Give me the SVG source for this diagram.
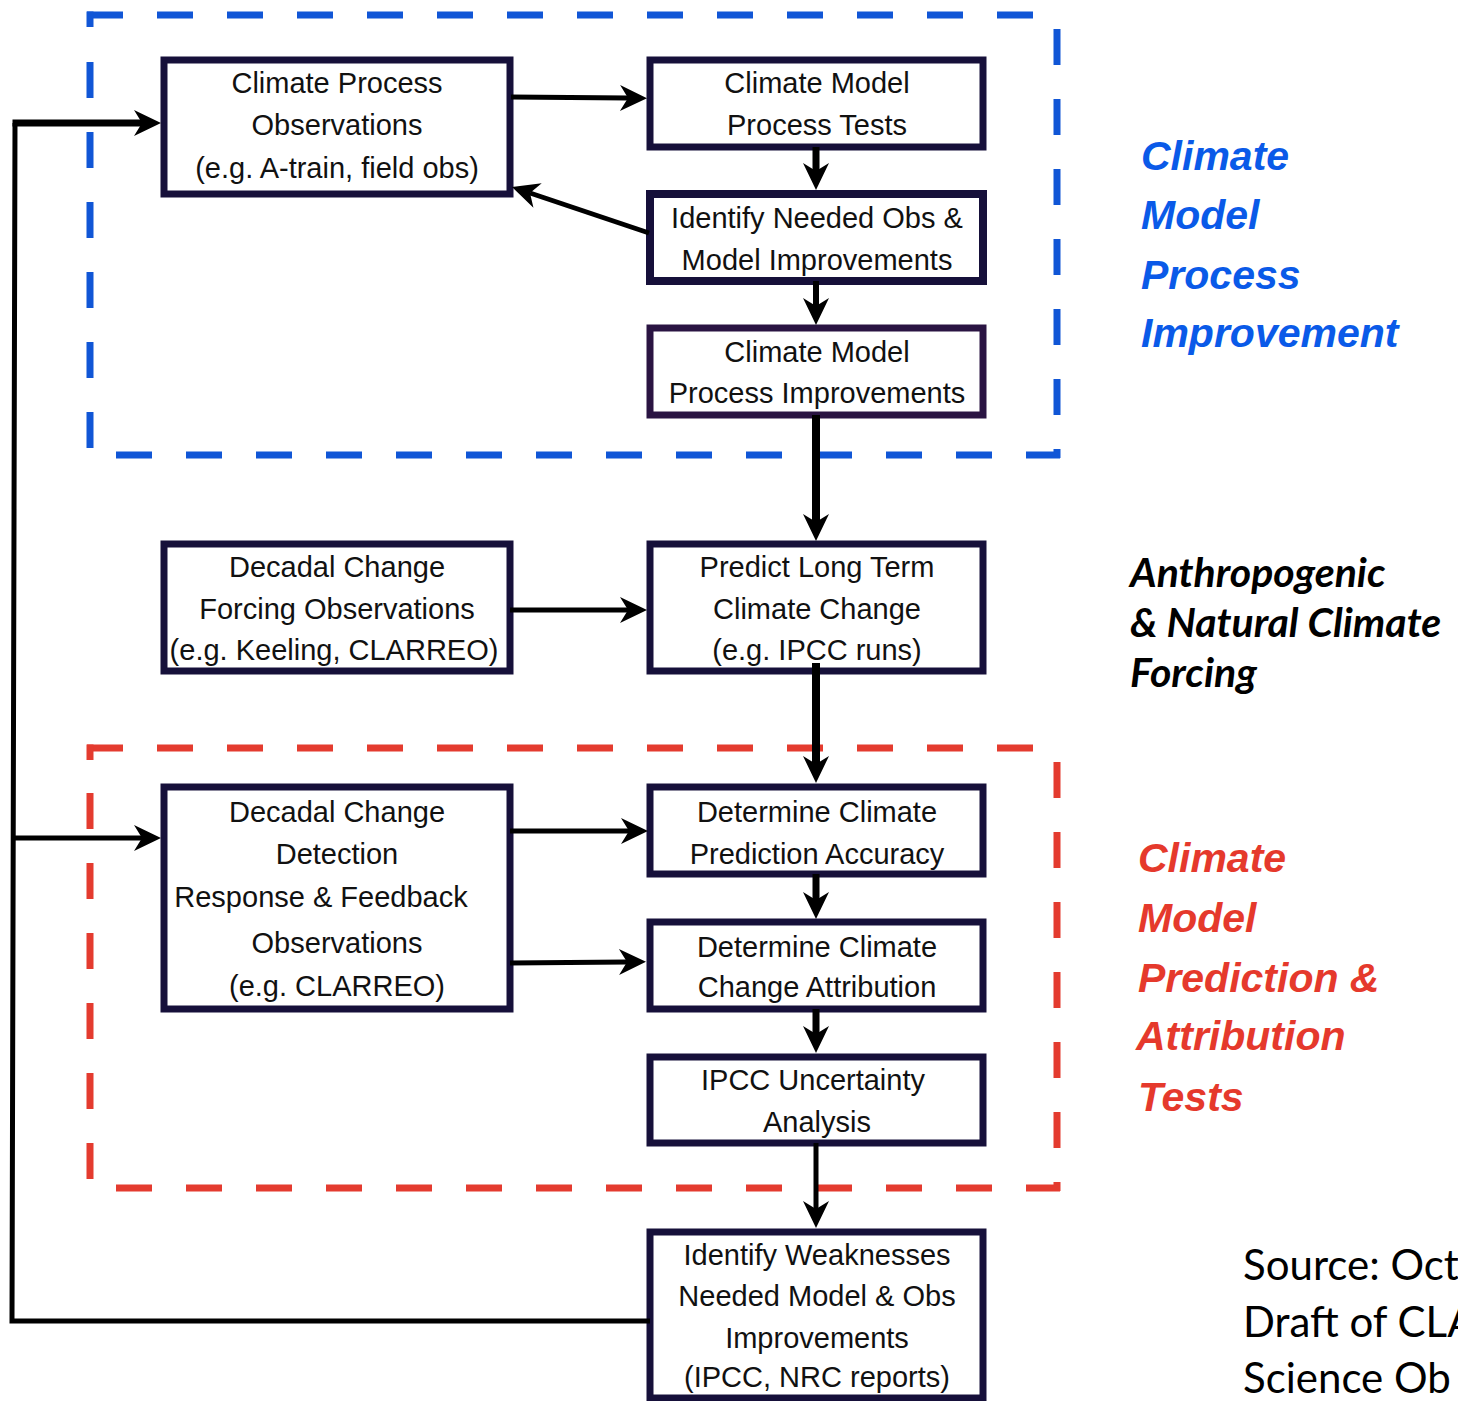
<svg xmlns="http://www.w3.org/2000/svg" width="1458" height="1401" viewBox="0 0 1458 1401">
<style>
.box{fill:#fff;stroke:#16103a;stroke-width:7}
.bt{font-family:"Liberation Sans",Arial,sans-serif;font-size:29px;fill:#111;text-anchor:middle}
.dash{fill:none;stroke-width:7;stroke-dasharray:36 34}
.blue{stroke:#1156d6}
.red{stroke:#e43b2f}
.c{fill:none;stroke:#000}
.lblue{font-family:"Liberation Sans",Arial,sans-serif;font-size:41px;font-weight:bold;font-style:italic;fill:#0a5ae8}
.lred{font-family:"Liberation Sans",Arial,sans-serif;font-size:41px;font-weight:bold;font-style:italic;fill:#e5392c}
.lblk{font-family:Lato,"Open Sans",sans-serif;font-size:41px;font-weight:bold;font-style:italic;fill:#000}
.src{font-family:Lato,"Open Sans",sans-serif;font-size:42px;fill:#000}
</style>
<defs>
<marker id="ah" markerUnits="userSpaceOnUse" markerWidth="30" markerHeight="30" viewBox="-30 -15 30 30" refX="-19" refY="0" orient="auto">
<path d="M0,0 L-27,-13 L-19,0 L-27,13 Z" fill="#000"/>
</marker>
</defs>
<rect width="1458" height="1401" fill="#fff"/>

<g id="groups">
<g id="blue-frame">
<line class="dash blue" x1="87" y1="15" x2="1060" y2="15"/>
<line class="dash blue" x1="1057" y1="29" x2="1057" y2="458"/>
<line class="dash blue" x1="116" y1="455" x2="1060" y2="455"/>
<line class="dash blue" x1="90" y1="62" x2="90" y2="448"/>
<line class="blue" stroke-width="7" x1="90" y1="11.5" x2="90" y2="27"/>
</g>
<g id="red-frame">
<line class="dash red" x1="87" y1="748" x2="1060" y2="748"/>
<line class="dash red" x1="1057" y1="762" x2="1057" y2="1191"/>
<line class="dash red" x1="116" y1="1188" x2="1060" y2="1188"/>
<line class="dash red" x1="90" y1="793" x2="90" y2="1180"/>
<line class="red" stroke-width="7" x1="90" y1="744.5" x2="90" y2="760"/>
</g>
</g>

<g id="n1"><rect class="box" x="164" y="60" width="346" height="134"/>
<text class="bt" x="337" y="93">Climate Process</text>
<text class="bt" x="337" y="135">Observations</text>
<text class="bt" x="337" y="178">(e.g. A-train, field obs)</text></g>

<g id="n2"><rect class="box" x="650" y="60" width="333" height="87"/>
<text class="bt" x="817" y="93">Climate Model</text>
<text class="bt" x="817" y="135">Process Tests</text></g>

<g id="n3"><rect class="box" x="650" y="194" width="333" height="87" style="stroke-width:8"/>
<text class="bt" x="817" y="228">Identify Needed Obs &amp;</text>
<text class="bt" x="817" y="270">Model Improvements</text></g>

<g id="n4"><rect class="box" x="650" y="328" width="333" height="87" style="stroke:#2a1442"/>
<text class="bt" x="817" y="362">Climate Model</text>
<text class="bt" x="817" y="403">Process Improvements</text></g>

<g id="n5"><rect class="box" x="164" y="544" width="346" height="127"/>
<text class="bt" x="337" y="577">Decadal Change</text>
<text class="bt" x="337" y="619">Forcing Observations</text>
<text class="bt" x="334" y="660">(e.g. Keeling, CLARREO)</text></g>

<g id="n6"><rect class="box" x="650" y="544" width="333" height="127"/>
<text class="bt" x="817" y="577">Predict Long Term</text>
<text class="bt" x="817" y="619">Climate Change</text>
<text class="bt" x="817" y="660">(e.g. IPCC runs)</text></g>

<g id="n7"><rect class="box" x="164" y="787" width="346" height="222"/>
<text class="bt" x="337" y="822">Decadal Change</text>
<text class="bt" x="337" y="864">Detection</text>
<text class="bt" x="321" y="907">Response &amp; Feedback</text>
<text class="bt" x="337" y="953">Observations</text>
<text class="bt" x="337" y="996">(e.g. CLARREO)</text></g>

<g id="n8"><rect class="box" x="650" y="787" width="333" height="87"/>
<text class="bt" x="817" y="822">Determine Climate</text>
<text class="bt" x="817" y="864">Prediction Accuracy</text></g>

<g id="n9"><rect class="box" x="650" y="922" width="333" height="87"/>
<text class="bt" x="817" y="957">Determine Climate</text>
<text class="bt" x="817" y="997">Change Attribution</text></g>

<g id="n10"><rect class="box" x="650" y="1057" width="333" height="86"/>
<text class="bt" x="813" y="1090">IPCC Uncertainty</text>
<text class="bt" x="817" y="1132">Analysis</text></g>

<g id="n11"><rect class="box" x="650" y="1232" width="333" height="166"/>
<text class="bt" x="817" y="1265">Identify Weaknesses</text>
<text class="bt" x="817" y="1306">Needed Model &amp; Obs</text>
<text class="bt" x="817" y="1348">Improvements</text>
<text class="bt" x="817" y="1387">(IPCC, NRC reports)</text></g>

<g id="connectors">
<path class="c" stroke-width="5" d="M511 97 L628 98" marker-end="url(#ah)"/>
<path class="c" stroke-width="7" d="M816 147 L816 171" marker-end="url(#ah)"/>
<path class="c" stroke-width="5" d="M649 233 L530 193" marker-end="url(#ah)"/>
<path class="c" stroke-width="6" d="M816 281 L816 306" marker-end="url(#ah)"/>
<path class="c" stroke-width="8" d="M816 415 L816 522" marker-end="url(#ah)"/>
<path class="c" stroke-width="5" d="M510 610 L628 610" marker-end="url(#ah)"/>
<path class="c" stroke-width="8" d="M816 663 L816 764" marker-end="url(#ah)"/>
<path class="c" stroke-width="5" d="M510 831 L629 831" marker-end="url(#ah)"/>
<path class="c" stroke-width="5" d="M510 963 L627 962" marker-end="url(#ah)"/>
<path class="c" stroke-width="7" d="M816 874 L816 900" marker-end="url(#ah)"/>
<path class="c" stroke-width="7" d="M816 1009 L816 1034" marker-end="url(#ah)"/>
<path class="c" stroke-width="5" d="M816 1143 L816 1209" marker-end="url(#ah)"/>
<path class="c" stroke-width="5" d="M650 1321 L12 1321 L15 123"/>
<path class="c" stroke-width="7" d="M12.5 123 L142 123" marker-end="url(#ah)"/>
<path class="c" stroke-width="5" d="M14 838 L142 838" marker-end="url(#ah)"/>
</g>

<g id="labels">
<text class="lblue" x="1141" y="170">Climate</text>
<text class="lblue" x="1141" y="229">Model</text>
<text class="lblue" x="1141" y="289">Process</text>
<text class="lblue" x="1141" y="347">Improvement</text>
<text class="lblk" x="1130" y="587">Anthropogenic</text>
<text class="lblk" x="1130" y="637">&amp; Natural Climate</text>
<text class="lblk" x="1130" y="687">Forcing</text>
<text class="lred" x="1138" y="872">Climate</text>
<text class="lred" x="1138" y="932">Model</text>
<text class="lred" x="1138" y="992">Prediction &amp;</text>
<text class="lred" x="1136" y="1050">Attribution</text>
<text class="lred" x="1138" y="1111">Tests</text>
<text class="src" x="1243" y="1280">Source: Oct</text>
<text class="src" x="1243" y="1337">Draft of CLA</text>
<text class="src" x="1243" y="1393">Science Ob</text>
</g>
</svg>
